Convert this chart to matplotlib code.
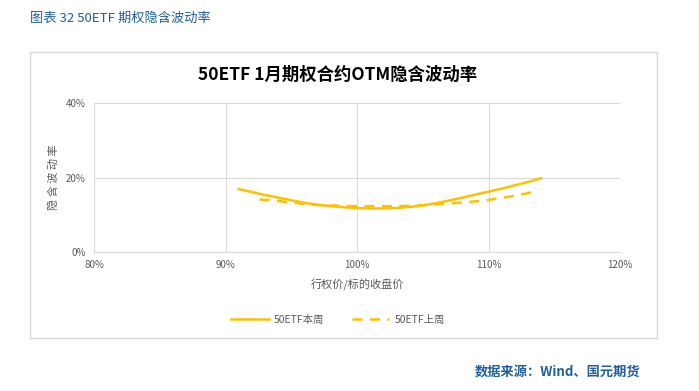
import matplotlib.pyplot as plt
from matplotlib.patches import Rectangle

plt.rcParams['font.family'] = ['Noto Sans CJK SC', 'DejaVu Sans']

# 本周
x_now = [91, 92, 93, 94, 95, 96, 97, 98, 99, 100, 101, 102, 103, 104, 105,
         106, 107, 108, 109, 110, 111, 112, 113, 114]
iv_now = [16.9, 16.1, 15.3, 14.6, 13.9, 13.2, 12.7, 12.3, 12.0, 11.8, 11.7, 11.7,
          11.8, 12.1, 12.5, 13.1, 13.8, 14.6, 15.4, 16.2, 17.0, 17.9, 18.8, 19.8]
# 上周
x_prev = [92.6, 93.5, 95, 96, 97, 98, 99, 100, 101, 102, 103, 104, 105,
          106, 107, 108, 109, 110, 111, 112, 113, 113.3]
iv_prev = [14.1, 13.9, 13.3, 12.9, 12.6, 12.5, 12.4, 12.3, 12.3, 12.3, 12.3, 12.4,
           12.6, 12.8, 13.0, 13.3, 13.6, 14.0, 14.5, 15.1, 15.8, 16.1]

xticks = [80, 90, 100, 110, 120]
yticks = [0, 20, 40]

gold = '#FFC000'
grid = '#D9D9D9'
txt = '#595959'
blue = '#1F5FA0'

fig = plt.figure(figsize=(6.99, 3.91), dpi=100)
W, H = 699, 391

# outer chart frame
fig.patches.append(Rectangle((30 / W, 1 - 338 / H), 627 / W, 286 / H,
                             transform=fig.transFigure, fill=False,
                             edgecolor=grid, linewidth=1))

ax = fig.add_axes([94 / W, 1 - 252 / H, 526 / W, 149 / H])
ax.plot(x_now, iv_now, color=gold, lw=1.8, label='50ETF本周')
ax.plot(x_prev, iv_prev, color=gold, lw=1.8, ls=(0, (4, 3)), label='50ETF上周')

ax.set_xlim(80, 120)
ax.set_ylim(0, 40)
ax.set_xticks(xticks)
ax.set_yticks(yticks)
ax.set_xticklabels([f'{v}%' for v in xticks])
ax.set_yticklabels([f'{v}%' for v in yticks])
ax.tick_params(length=0, labelsize=7, colors=txt, pad=6)
ax.grid(True, color=grid, lw=0.8)
ax.set_axisbelow(True)
for s in ['top', 'right', 'left']:
    ax.spines[s].set_visible(False)
ax.spines['bottom'].set_color(grid)

ax.set_xlabel('行权价/标的收盘价', fontsize=8, color=txt, labelpad=6)
ax.set_ylabel('隐 含 波 动 率', fontsize=8, color=txt, labelpad=5)

ax.legend(loc='center', bbox_to_anchor=(338 / W, 1 - 320 / H),
          bbox_transform=fig.transFigure, ncol=2, frameon=False,
          fontsize=7.5, labelcolor=txt, handlelength=3.6, handletextpad=0.5,
          columnspacing=2.6)

fig.text(338 / W, 1 - 75 / H, '50ETF 1月期权合约OTM隐含波动率', ha='center',
         va='center', fontsize=12.5, fontweight='bold', color='black')
fig.text(30 / W, 1 - 18 / H, '图表 32 50ETF 期权隐含波动率', ha='left',
         va='center', fontsize=9.5, color=blue)
fig.text(640 / W, 1 - 372 / H, '数据来源：Wind、国元期货', ha='right',
         va='center', fontsize=9.5, color=blue, fontweight='bold')

fig.savefig('out.png', dpi=100)
